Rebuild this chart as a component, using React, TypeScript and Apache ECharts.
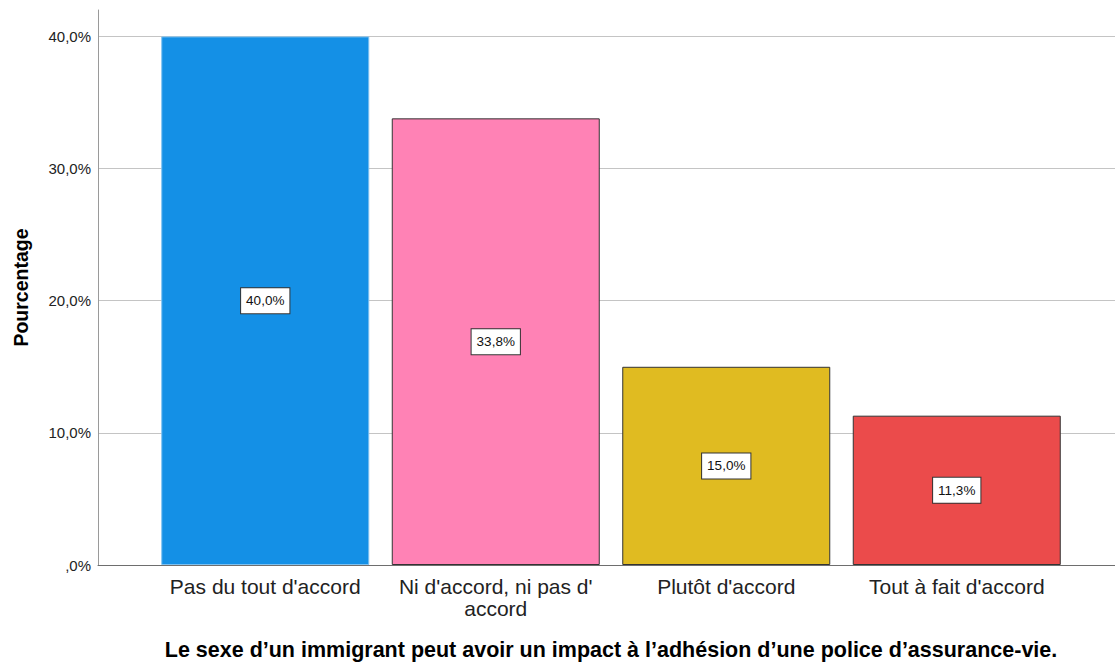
import React, { useEffect, useRef } from "react";
import * as echarts from "echarts";

const categories = [
  "Pas du tout d'accord",
  "Ni d'accord, ni pas d'\naccord",
  "Plutôt d'accord",
  "Tout à fait d'accord",
];
const percentages = [40.0, 33.8, 15.0, 11.3];
const barColors = ["#1490E6", "#FF82B5", "#E0BB21", "#EB4B4B"];
const barBorders = ["#7cc0f0", "#333333", "#333333", "#333333"];
const yTicks = [0, 10, 20, 30, 40];
const yMax = 42;
const xTitle =
  "Le sexe d’un immigrant peut avoir un impact à l’adhésion d’une police d’assurance-vie.";
const yTitle = "Pourcentage";

const FONT = "'Liberation Sans', Arial, sans-serif";

const fmtPct = (v: number) => {
  const s = v.toFixed(1).replace(".", ",");
  return (s.startsWith("0,") ? s.slice(1) : s) + "%";
};

export default function App() {
  const ref = useRef<HTMLDivElement>(null);

  useEffect(() => {
    if (!ref.current) return;
    const chart = echarts.init(ref.current, null, { renderer: "svg" });
    const top = 10;
    const bottom = 97;
    chart.setOption({
      animation: false,
      backgroundColor: "#ffffff",
      textStyle: { fontFamily: FONT },
      grid: [
        // frame: axis lines and gridlines across the full width
        { left: 98, right: 0, top, bottom, outerBoundsMode: "none", containLabel: false },
        // bars
        { left: 150, right: 43, top, bottom, outerBoundsMode: "none", containLabel: false },
      ],
      xAxis: [
        {
          type: "value",
          gridIndex: 0,
          min: 0,
          max: 1,
          axisLine: { show: true, lineStyle: { color: "#6e6e6e", width: 1 } },
          axisTick: { show: false },
          axisLabel: { show: false },
          splitLine: { show: false },
        },
        {
          type: "category",
          gridIndex: 1,
          data: categories,
          axisLine: { show: false },
          axisTick: { show: false },
          axisLabel: {
            fontFamily: FONT,
            fontSize: 21,
            color: "#222",
            margin: 10,
            lineHeight: 22,
            interval: 0,
          },
          name: xTitle,
          nameLocation: "middle",
          nameGap: 74,
          nameTextStyle: {
            fontFamily: FONT,
            fontSize: 21.5,
            fontWeight: "bold",
            color: "#000",
          },
        },
      ],
      yAxis: [
        {
          type: "value",
          gridIndex: 0,
          min: 0,
          max: yMax,
          interval: 10,
          axisLine: { show: true, lineStyle: { color: "#9a9a9a", width: 1 } },
          axisTick: { show: false },
          axisLabel: {
            fontFamily: FONT,
            fontSize: 15,
            color: "#222",
            margin: 7,
            showMaxLabel: false,
            formatter: (v: number) => (yTicks.includes(v) ? fmtPct(v) : ""),
          },
          splitLine: {
            show: true,
            showMinLine: false,
            showMaxLine: false,
            lineStyle: { color: "#c4c4c4", width: 1 },
          },
          name: yTitle,
          nameLocation: "middle",
          nameGap: 67,
          nameTextStyle: {
            fontFamily: FONT,
            fontSize: 19.5,
            fontWeight: "bold",
            color: "#000",
          },
        },
        {
          type: "value",
          gridIndex: 1,
          min: 0,
          max: yMax,
          show: false,
        },
      ],
      series: [
        {
          type: "bar",
          xAxisIndex: 1,
          yAxisIndex: 1,
          barWidth: 208,
          data: percentages.map((v, i) => ({
            value: v,
            itemStyle: {
              color: barColors[i],
              borderColor: barBorders[i],
              borderWidth: 1,
            },
          })),
          label: {
            show: true,
            position: "inside",
            formatter: (p: any) => fmtPct(p.value),
            fontFamily: FONT,
            fontSize: 13.5,
            color: "#111",
            backgroundColor: "#ffffff",
            borderColor: "#333",
            borderWidth: 1,
            padding: [5, 5, 5, 5],
            lineHeight: 15,
          },
        },
      ],
    });
    return () => chart.dispose();
  }, []);

  return (
    <div
      ref={ref}
      style={{ position: "absolute", left: 0, top: 0, width: 1115, height: 662 }}
    />
  );
}
